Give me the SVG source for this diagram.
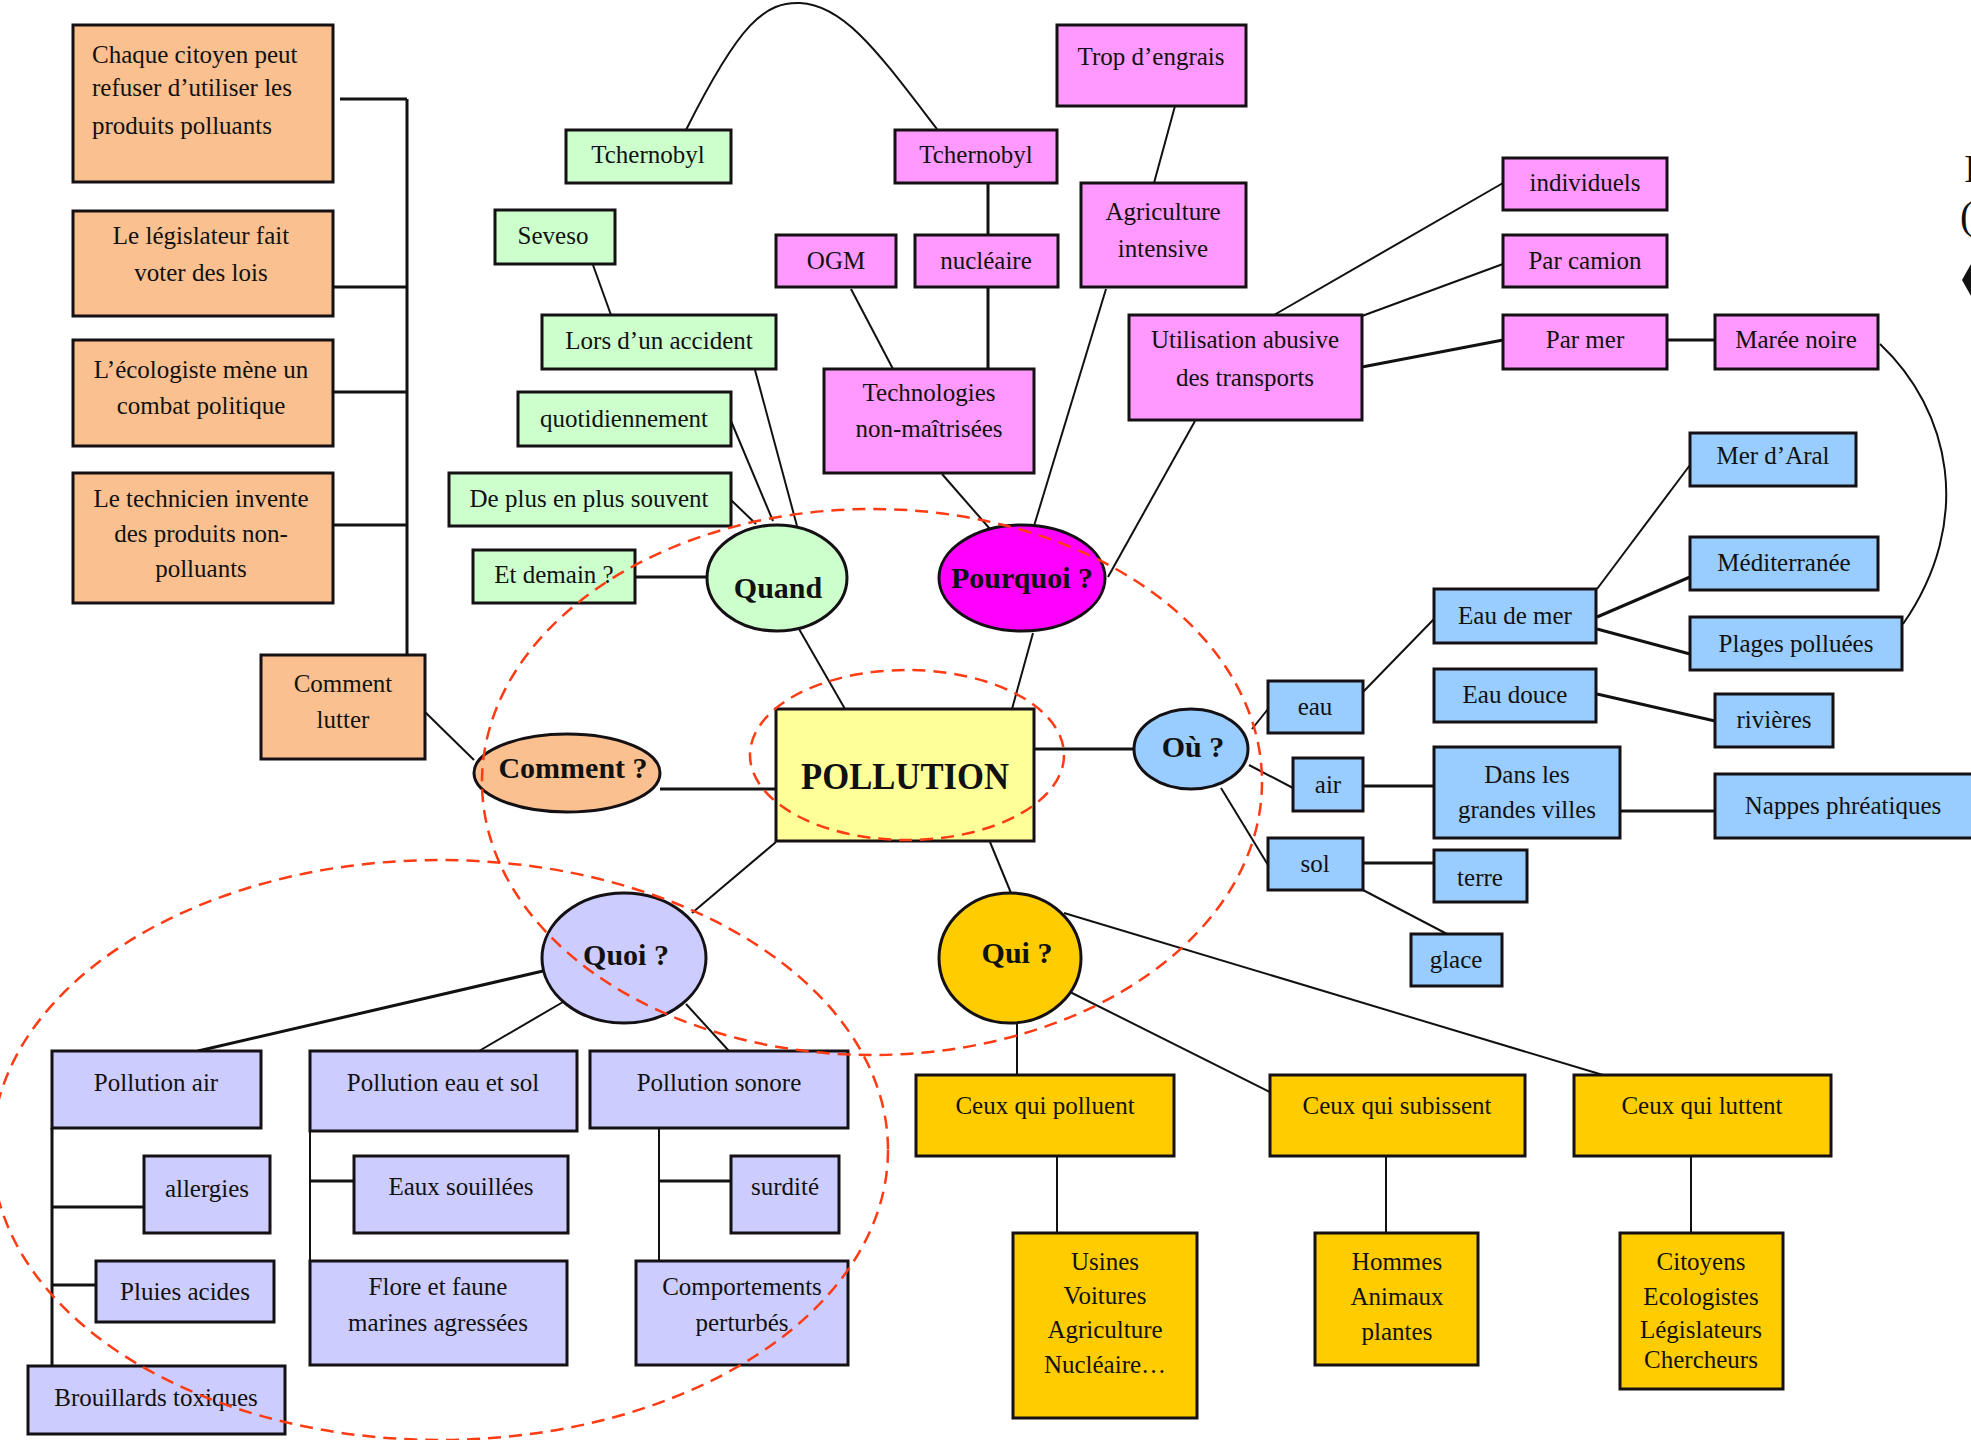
<svg xmlns="http://www.w3.org/2000/svg" width="1971" height="1440" viewBox="0 0 1971 1440">
  <style>
    .n { stroke: #141014; stroke-width: 3; }
    .or { fill: #fac08f; }
    .gr { fill: #ccffcc; }
    .pk { fill: #ff99ff; }
    .bl { fill: #99ccff; }
    .lv { fill: #ccccff; }
    .go { fill: #ffcc00; }
    .ye { fill: #ffff99; }
    .mg { fill: #ff00ff; }
    text { font-family: "Liberation Serif", "Times New Roman", serif; fill: #111; }
    .t { font-size: 25px; text-anchor: middle; }
    .tl { font-size: 25px; text-anchor: start; }
    .b { font-size: 30px; font-weight: bold; text-anchor: middle; }
    .c { fill: none; stroke: #111; stroke-width: 2; }
    .ck { fill: none; stroke: #111; stroke-width: 3; }
    .hl { fill: none; stroke: #ff3b14; stroke-width: 2.5; stroke-dasharray: 13 8; }
  </style>

  <rect width="1971" height="1440" fill="#ffffff"/>

  <!-- connectors -->
  <g id="connectors">
    <!-- Comment lutter bracket -->
    <path class="ck" d="M407,99 V655"/>
    <path class="ck" d="M340,99 H407 M333,287 H407 M333,392 H407 M333,525 H407"/>
    <path class="c" d="M425,712 L474,760"/>
    <path class="ck" d="M660,789 H776"/>

    <!-- Quand -->
    <path class="ck" d="M635,577 H707"/>
    <path class="c" d="M731,500 L756,524"/>
    <path class="c" d="M731,421 L773,521"/>
    <path class="c" d="M755,370 L797,526"/>
    <path class="c" d="M593,265 L611,315"/>
    <path class="c" d="M686,130 C740,22 765,2 800,3 C845,5 880,55 937,129"/>
    <path class="c" d="M799,629 L845,709"/>

    <!-- Pourquoi -->
    <path class="ck" d="M988,183 V235 M988,287 V369"/>
    <path class="c" d="M851,289 L893,369"/>
    <path class="c" d="M942,474 L990,529"/>
    <path class="c" d="M1175,106 L1154,183"/>
    <path class="c" d="M1106,289 L1034,526"/>
    <path class="c" d="M1195,421 L1108,577"/>
    <path class="c" d="M1274,315 L1503,183"/>
    <path class="c" d="M1362,316 L1503,264"/>
    <path class="ck" d="M1362,367 L1503,340"/>
    <path class="ck" d="M1667,340 H1715"/>
    <path class="c" d="M1880,344 C1950,410 1975,520 1903,624"/>
    <path class="c" d="M1033,633 L1012,709"/>

    <!-- Où -->
    <path class="ck" d="M1034,749 H1134"/>
    <path class="c" d="M1252,729 L1268,709"/>
    <path class="c" d="M1249,765 L1293,788"/>
    <path class="c" d="M1221,788 L1268,865"/>
    <path class="c" d="M1363,692 L1434,619"/>
    <path class="c" d="M1597,589 L1690,465"/>
    <path class="ck" d="M1597,617 L1690,577"/>
    <path class="ck" d="M1597,629 L1690,654"/>
    <path class="ck" d="M1597,694 L1715,721"/>
    <path class="ck" d="M1363,786 H1434"/>
    <path class="ck" d="M1620,811 H1715"/>
    <path class="ck" d="M1363,863 H1434"/>
    <path class="c" d="M1363,890 L1447,934"/>

    <!-- Qui -->
    <path class="c" d="M990,842 L1011,893"/>
    <path class="c" d="M1017,1022 V1075"/>
    <path class="c" d="M1068,991 L1272,1093"/>
    <path class="c" d="M1064,913 L1603,1075"/>
    <path class="c" d="M1057,1156 V1233 M1386,1156 V1233 M1691,1156 V1233"/>

    <!-- Quoi -->
    <path class="c" d="M776,842 L692,913"/>
    <path class="ck" d="M543,971 L198,1051"/>
    <path class="c" d="M563,1002 L479,1051"/>
    <path class="c" d="M686,1004 L729,1051"/>
    <path class="ck" d="M52,1128 V1366 M52,1207 H144 M52,1285 H96"/>
    <path class="c" d="M310,1131 V1261"/>
    <path class="ck" d="M310,1181 H354"/>
    <path class="c" d="M659,1128 V1261"/>
    <path class="ck" d="M659,1181 H731"/>
  </g>

  <!-- centre -->
  <g id="pollution">
    <rect class="n ye" x="776" y="709" width="258" height="132"/>
    <text x="905" y="789" font-size="38" font-weight="bold" text-anchor="middle" textLength="208" lengthAdjust="spacingAndGlyphs">POLLUTION</text>
  </g>

  <!-- Comment ? branch -->
  <g id="comment">
    <ellipse class="n or" cx="567" cy="773" rx="93" ry="39"/>
    <text class="b" x="573" y="778">Comment ?</text>
  </g>
  <g id="comment-lutter">
    <rect class="n or" x="261" y="655" width="164" height="104"/>
    <text class="t" x="343"><tspan x="343" y="692">Comment</tspan><tspan x="343" y="728">lutter</tspan></text>
  </g>
  <g id="citoyen">
    <rect class="n or" x="73" y="25" width="260" height="157"/>
    <text class="tl"><tspan x="92" y="63">Chaque citoyen peut</tspan><tspan x="92" y="96">refuser d’utiliser les</tspan><tspan x="92" y="134">produits polluants</tspan></text>
  </g>
  <g id="legislateur">
    <rect class="n or" x="73" y="211" width="260" height="105"/>
    <text class="t"><tspan x="201" y="244">Le législateur fait</tspan><tspan x="201" y="281">voter des lois</tspan></text>
  </g>
  <g id="ecologiste">
    <rect class="n or" x="73" y="340" width="260" height="106"/>
    <text class="t"><tspan x="201" y="378">L’écologiste mène un</tspan><tspan x="201" y="414">combat politique</tspan></text>
  </g>
  <g id="technicien">
    <rect class="n or" x="73" y="473" width="260" height="130"/>
    <text class="t"><tspan x="201" y="507">Le technicien invente</tspan><tspan x="201" y="542">des produits non-</tspan><tspan x="201" y="577">polluants</tspan></text>
  </g>

  <!-- Quand branch -->
  <g id="quand">
    <ellipse class="n gr" cx="777" cy="578" rx="70" ry="53"/>
    <text class="b" x="778" y="598">Quand</text>
  </g>
  <g id="tchernobyl-vert">
    <rect class="n gr" x="566" y="130" width="165" height="53"/>
    <text class="t" x="648" y="163">Tchernobyl</text>
  </g>
  <g id="seveso">
    <rect class="n gr" x="495" y="210" width="120" height="54"/>
    <text class="t" x="553" y="244">Seveso</text>
  </g>
  <g id="accident">
    <rect class="n gr" x="542" y="315" width="234" height="54"/>
    <text class="t" x="659" y="349">Lors d’un accident</text>
  </g>
  <g id="quotidiennement">
    <rect class="n gr" x="518" y="392" width="213" height="54"/>
    <text class="t" x="624" y="427">quotidiennement</text>
  </g>
  <g id="souvent">
    <rect class="n gr" x="449" y="473" width="282" height="53"/>
    <text class="t" x="589" y="507">De plus en plus souvent</text>
  </g>
  <g id="demain">
    <rect class="n gr" x="473" y="550" width="162" height="53"/>
    <text class="t" x="554" y="583">Et demain ?</text>
  </g>

  <!-- Pourquoi branch -->
  <g id="pourquoi">
    <ellipse class="n mg" cx="1022" cy="578" rx="83" ry="53"/>
    <text class="b" x="1022" y="588" fill="#2a0030">Pourquoi ?</text>
  </g>
  <g id="tchernobyl-rose">
    <rect class="n pk" x="895" y="130" width="162" height="53"/>
    <text class="t" x="976" y="163">Tchernobyl</text>
  </g>
  <g id="ogm">
    <rect class="n pk" x="776" y="235" width="120" height="52"/>
    <text class="t" x="836" y="269">OGM</text>
  </g>
  <g id="nucleaire">
    <rect class="n pk" x="915" y="235" width="143" height="52"/>
    <text class="t" x="986" y="269">nucléaire</text>
  </g>
  <g id="technologies">
    <rect class="n pk" x="824" y="369" width="210" height="104"/>
    <text class="t"><tspan x="929" y="401">Technologies</tspan><tspan x="929" y="437">non-maîtrisées</tspan></text>
  </g>
  <g id="engrais">
    <rect class="n pk" x="1057" y="25" width="189" height="81"/>
    <text class="t" x="1151" y="65">Trop d’engrais</text>
  </g>
  <g id="agriculture">
    <rect class="n pk" x="1081" y="183" width="165" height="104"/>
    <text class="t"><tspan x="1163" y="220">Agriculture</tspan><tspan x="1163" y="257">intensive</tspan></text>
  </g>
  <g id="transports">
    <rect class="n pk" x="1129" y="315" width="233" height="105"/>
    <text class="t"><tspan x="1245" y="348">Utilisation abusive</tspan><tspan x="1245" y="386">des transports</tspan></text>
  </g>
  <g id="individuels">
    <rect class="n pk" x="1503" y="158" width="164" height="52"/>
    <text class="t" x="1585" y="191">individuels</text>
  </g>
  <g id="camion">
    <rect class="n pk" x="1503" y="235" width="164" height="52"/>
    <text class="t" x="1585" y="269">Par camion</text>
  </g>
  <g id="mer">
    <rect class="n pk" x="1503" y="315" width="164" height="54"/>
    <text class="t" x="1585" y="348">Par mer</text>
  </g>
  <g id="maree">
    <rect class="n pk" x="1715" y="315" width="163" height="54"/>
    <text class="t" x="1796" y="348">Marée noire</text>
  </g>

  <!-- Où branch -->
  <g id="ou">
    <ellipse class="n bl" cx="1191" cy="749" rx="57" ry="40"/>
    <text class="b" x="1193" y="757">Où ?</text>
  </g>
  <g id="eau">
    <rect class="n bl" x="1268" y="681" width="95" height="52"/>
    <text class="t" x="1315" y="715">eau</text>
  </g>
  <g id="air">
    <rect class="n bl" x="1293" y="758" width="70" height="53"/>
    <text class="t" x="1328" y="793">air</text>
  </g>
  <g id="sol">
    <rect class="n bl" x="1268" y="838" width="95" height="52"/>
    <text class="t" x="1315" y="872">sol</text>
  </g>
  <g id="eau-de-mer">
    <rect class="n bl" x="1434" y="589" width="162" height="54"/>
    <text class="t" x="1515" y="624">Eau de mer</text>
  </g>
  <g id="eau-douce">
    <rect class="n bl" x="1434" y="669" width="162" height="53"/>
    <text class="t" x="1515" y="703">Eau douce</text>
  </g>
  <g id="villes">
    <rect class="n bl" x="1434" y="747" width="186" height="91"/>
    <text class="t"><tspan x="1527" y="783">Dans les</tspan><tspan x="1527" y="818">grandes villes</tspan></text>
  </g>
  <g id="terre">
    <rect class="n bl" x="1434" y="850" width="93" height="52"/>
    <text class="t" x="1480" y="886">terre</text>
  </g>
  <g id="glace">
    <rect class="n bl" x="1411" y="934" width="91" height="52"/>
    <text class="t" x="1456" y="968">glace</text>
  </g>
  <g id="aral">
    <rect class="n bl" x="1690" y="433" width="166" height="53"/>
    <text class="t" x="1773" y="464">Mer d’Aral</text>
  </g>
  <g id="mediterranee">
    <rect class="n bl" x="1690" y="537" width="188" height="53"/>
    <text class="t" x="1784" y="571">Méditerranée</text>
  </g>
  <g id="plages">
    <rect class="n bl" x="1690" y="617" width="212" height="53"/>
    <text class="t" x="1796" y="652">Plages polluées</text>
  </g>
  <g id="rivieres">
    <rect class="n bl" x="1715" y="694" width="118" height="53"/>
    <text class="t" x="1774" y="728">rivières</text>
  </g>
  <g id="nappes">
    <rect class="n bl" x="1715" y="774" width="262" height="64"/>
    <text class="t" x="1843" y="814">Nappes phréatiques</text>
  </g>

  <!-- Qui branch -->
  <g id="qui">
    <ellipse class="n go" cx="1010" cy="958" rx="71" ry="65"/>
    <text class="b" x="1017" y="963">Qui ?</text>
  </g>
  <g id="polluent">
    <rect class="n go" x="916" y="1075" width="258" height="81"/>
    <text class="t" x="1045" y="1114">Ceux qui polluent</text>
  </g>
  <g id="subissent">
    <rect class="n go" x="1270" y="1075" width="255" height="81"/>
    <text class="t" x="1397" y="1114">Ceux qui subissent</text>
  </g>
  <g id="luttent">
    <rect class="n go" x="1574" y="1075" width="257" height="81"/>
    <text class="t" x="1702" y="1114">Ceux qui luttent</text>
  </g>
  <g id="usines">
    <rect class="n go" x="1013" y="1233" width="184" height="185"/>
    <text class="t"><tspan x="1105" y="1270">Usines</tspan><tspan x="1105" y="1304">Voitures</tspan><tspan x="1105" y="1338">Agriculture</tspan><tspan x="1105" y="1373">Nucléaire…</tspan></text>
  </g>
  <g id="hommes">
    <rect class="n go" x="1315" y="1233" width="163" height="132"/>
    <text class="t"><tspan x="1397" y="1270">Hommes</tspan><tspan x="1397" y="1305">Animaux</tspan><tspan x="1397" y="1340">plantes</tspan></text>
  </g>
  <g id="citoyens">
    <rect class="n go" x="1620" y="1233" width="163" height="156"/>
    <text class="t"><tspan x="1701" y="1270">Citoyens</tspan><tspan x="1701" y="1305">Ecologistes</tspan><tspan x="1701" y="1338">Législateurs</tspan><tspan x="1701" y="1368">Chercheurs</tspan></text>
  </g>

  <!-- Quoi branch -->
  <g id="quoi">
    <ellipse class="n lv" cx="624" cy="958" rx="82" ry="65"/>
    <text class="b" x="626" y="965">Quoi ?</text>
  </g>
  <g id="pollution-air">
    <rect class="n lv" x="52" y="1051" width="209" height="77"/>
    <text class="t" x="156" y="1091">Pollution air</text>
  </g>
  <g id="allergies">
    <rect class="n lv" x="144" y="1156" width="126" height="77"/>
    <text class="t" x="207" y="1197">allergies</text>
  </g>
  <g id="pluies">
    <rect class="n lv" x="96" y="1261" width="178" height="61"/>
    <text class="t" x="185" y="1300">Pluies acides</text>
  </g>
  <g id="brouillards">
    <rect class="n lv" x="28" y="1366" width="257" height="68"/>
    <text class="t" x="156" y="1406">Brouillards toxiques</text>
  </g>
  <g id="pollution-eau-sol">
    <rect class="n lv" x="310" y="1051" width="267" height="80"/>
    <text class="t" x="443" y="1091">Pollution eau et sol</text>
  </g>
  <g id="eaux-souillees">
    <rect class="n lv" x="354" y="1156" width="214" height="77"/>
    <text class="t" x="461" y="1195">Eaux souillées</text>
  </g>
  <g id="flore">
    <rect class="n lv" x="310" y="1261" width="257" height="104"/>
    <text class="t"><tspan x="438" y="1295">Flore et faune</tspan><tspan x="438" y="1331">marines agressées</tspan></text>
  </g>
  <g id="pollution-sonore">
    <rect class="n lv" x="590" y="1051" width="258" height="77"/>
    <text class="t" x="719" y="1091">Pollution sonore</text>
  </g>
  <g id="surdite">
    <rect class="n lv" x="731" y="1156" width="108" height="77"/>
    <text class="t" x="785" y="1195">surdité</text>
  </g>
  <g id="comportements">
    <rect class="n lv" x="636" y="1261" width="212" height="104"/>
    <text class="t"><tspan x="742" y="1295">Comportements</tspan><tspan x="742" y="1331">perturbés</tspan></text>
  </g>

  <!-- dashed highlight rings -->
  <g id="highlights">
    <ellipse class="hl" cx="872" cy="782" rx="390" ry="273"/>
    <ellipse class="hl" cx="907" cy="755" rx="157" ry="85"/>
    <ellipse class="hl" cx="440" cy="1150" rx="448" ry="290"/>
  </g>

  <!-- glyphs clipped by the right edge -->
  <g id="edge-marks">
    <text x="1964" y="182" font-family="Liberation Sans, sans-serif" font-size="40">I</text>
    <text x="1960" y="229" font-family="Liberation Sans, sans-serif" font-size="40">(</text>
    <polygon points="1962,280 1971,264 1971,296" fill="#111"/>
  </g>
</svg>
